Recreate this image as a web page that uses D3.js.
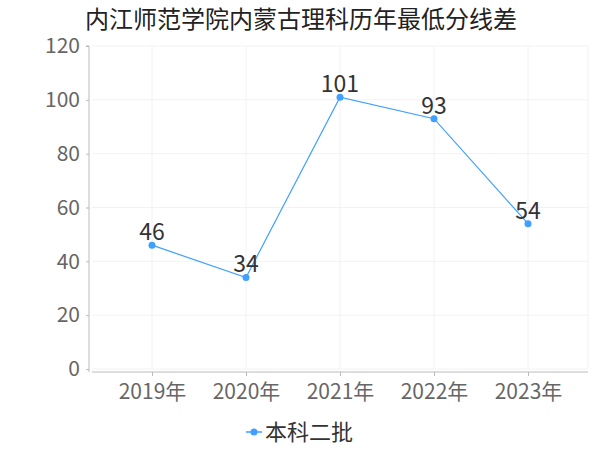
<!DOCTYPE html>
<html><head><meta charset="utf-8">
<script src="https://cdn.jsdelivr.net/npm/d3@7"></script>
<style>body{margin:0;background:#fff;} text{font-family:"Noto Sans CJK SC","Noto Sans",sans-serif;}</style>
</head><body>
<svg id="c" width="600" height="450"></svg>
<script>
const title = "内江师范学院内蒙古理科历年最低分线差";
const categories = ["2019年","2020年","2021年","2022年","2023年"];
const seriesName = "本科二批";
const values = [46, 34, 101, 93, 54];
const yTicks = [0, 20, 40, 60, 80, 100, 120];

(function(){
const svg = d3.select("#c");
const pL = 92, pR = 588, pT = 46, pB = 369;
const x = d3.scalePoint().domain(categories).range([152, 528]);
const y = d3.scaleLinear().domain([0, 120]).range([pB, pT]);
const color = "#3fa0ff";

svg.append("text").attr("x", 85).attr("y", 28).attr("font-size", 24).attr("fill", "#222").text(title);

// grid
const g = svg.append("g");
g.selectAll(".hg").data(yTicks).join("line")
  .attr("x1", pL).attr("x2", pR).attr("y1", d => y(d)).attr("y2", d => y(d))
  .attr("stroke", "#f2f2f2").attr("stroke-width", 1);
g.selectAll(".vg").data(categories).join("line")
  .attr("x1", d => x(d)).attr("x2", d => x(d)).attr("y1", pT).attr("y2", pB)
  .attr("stroke", "#f2f2f2").attr("stroke-width", 1);
g.append("line").attr("x1", pR).attr("x2", pR).attr("y1", pT).attr("y2", pB).attr("stroke", "#f2f2f2");

// y axis
const ya = svg.append("g").attr("transform", `translate(89,0)`)
  .call(d3.axisLeft(y).tickValues(yTicks).tickSize(3).tickPadding(6));
ya.select(".domain").attr("stroke", "#bbb").attr("d", `M-3,${pT}H0V${pB+3}`);
ya.selectAll(".tick line").attr("stroke", "#bbb");
ya.selectAll("text").attr("font-size", 21).attr("fill", "#666").attr("font-family", "'Noto Sans',sans-serif");

// x axis
const xa = svg.append("g").attr("transform", `translate(0,372)`)
  .call(d3.axisBottom(x).tickSize(4).tickPadding(8));
xa.select(".domain").attr("stroke", "#bbb").attr("d", `M${pL},0H${pR}`);
xa.selectAll(".tick line").attr("stroke", "#bbb");
xa.selectAll("text").attr("font-size", 21).attr("fill", "#666");

// line
svg.append("path").datum(values)
  .attr("fill", "none").attr("stroke", color).attr("stroke-width", 1.2)
  .attr("d", d3.line().x((d, i) => x(categories[i])).y(d => y(d)));
svg.selectAll(".pt").data(values).join("circle")
  .attr("cx", (d, i) => x(categories[i])).attr("cy", d => y(d)).attr("r", 3.5).attr("fill", color);
svg.selectAll(".lbl").data(values).join("text")
  .attr("x", (d, i) => x(categories[i])).attr("y", d => y(d) - 5)
  .attr("text-anchor", "middle").attr("font-size", 23).attr("fill", "#333")
  .attr("font-family", "'Noto Sans',sans-serif").text(d => d);

// legend
const lg = svg.append("g").attr("transform", "translate(246,432)");
lg.append("line").attr("x1", 0).attr("x2", 16).attr("y1", 0).attr("y2", 0).attr("stroke", color).attr("stroke-width", 1.5);
lg.append("circle").attr("cx", 8).attr("cy", 0).attr("r", 3.5).attr("fill", color);
lg.append("text").attr("x", 19).attr("y", 8).attr("font-size", 22).attr("fill", "#333").text(seriesName);
})();
</script>
</body></html>
